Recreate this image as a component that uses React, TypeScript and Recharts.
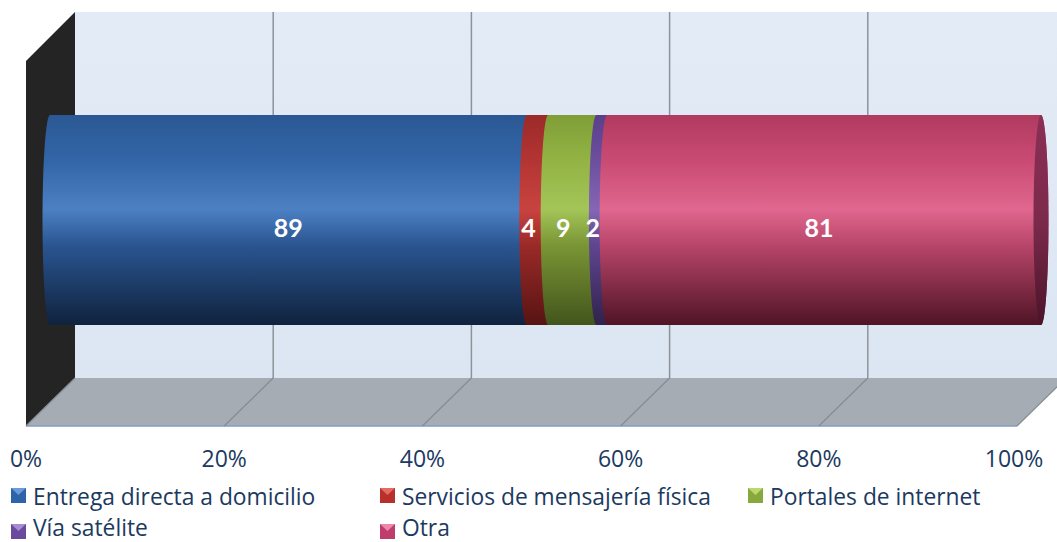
import React from 'react';
import { BarChart, Bar, XAxis, YAxis, CartesianGrid, LabelList, Legend } from 'recharts';

// ---------- data ----------
const CATEGORIES = ['Medio de entrega'];
const SERIES_KEYS = ['entrega', 'mensajeria', 'portales', 'satelite', 'otra'];
const SERIES_NAMES = [
  'Entrega directa a domicilio',
  'Servicios de mensajería física',
  'Portales de internet',
  'Vía satélite',
  'Otra',
];
const SERIES_VALUES = [89, 4, 9, 2, 81];
const X_TICKS = [0, 0.2, 0.4, 0.6, 0.8, 1];
const X_TICK_LABELS = ['0%', '20%', '40%', '60%', '80%', '100%'];

const data = CATEGORIES.map((c) => {
  const row: Record<string, string | number> = { categoria: c };
  SERIES_KEYS.forEach((k, i) => {
    row[k] = SERIES_VALUES[i];
  });
  return row;
});

// ---------- styles / layout ----------
const W = 1057;
const H = 542;
const FONT = "'Open Sans', Lato, 'DejaVu Sans', sans-serif";
const LABEL_FONT = "Lato, 'Open Sans', sans-serif";
const TEXT_COLOR = '#1b3a61';
const BACK_DX = 25;
const FRONT_DX = -24;
const BACK_TOP = 12;
const BACK_BOTTOM = 378;
const FRONT_BOTTOM = 426;
const RX = 7.5;

const GRADS = [
  ['#2a5894', '#3366a8', '#4c80c3', '#2a5591', '#10223d'],
  ['#9c2a29', '#b33533', '#c8433f', '#9a2a28', '#571413'],
  ['#7f9e37', '#93b444', '#a3c558', '#7a9535', '#42551c'],
  ['#5a3f8a', '#6c4f9e', '#8466b4', '#5f4590', '#30224b'],
  ['#b13a60', '#c94b74', '#e0678f', '#b8456a', '#4f1426'],
];
const MARKER = [
  ['#2f63a8', '#6a9ad8'],
  ['#b7302c', '#e46a62'],
  ['#86a83c', '#bcd86c'],
  ['#6a4a9c', '#a98bd2'],
  ['#bf3d6c', '#ec88ab'],
];
const LABEL_DX = [0, -9, -9, -9, -5];
const LEGEND_COLS = [11, 380, 748];

const Cylinder = (props: any) => {
  const { x, y, width, height, idx, last } = props;
  if (width == null || height == null) return null;
  const w = Math.max(0, width);
  const h = height;
  const d = `M${x},${y} L${x + w},${y} A${RX},${h / 2} 0 0 1 ${x + w},${y + h} L${x},${y + h} A${RX},${h / 2} 0 0 1 ${x},${y} Z`;
  return (
    <g>
      <path d={d} fill={`url(#cyl${idx})`} />
      {last ? <ellipse cx={x + w} cy={y + h / 2} rx={RX} ry={h / 2} fill="url(#cap)" /> : null}
    </g>
  );
};

const GridLine = (p: any) => {
  const x = p.x1;
  return (
    <g key={`g-${p.index}-${x}`}>
      {p.index > 0 ? (
        <line x1={x + BACK_DX} y1={BACK_TOP} x2={x + BACK_DX} y2={BACK_BOTTOM} stroke="#8d9399" strokeWidth={1.5} />
      ) : null}
      <line x1={x + BACK_DX} y1={BACK_BOTTOM} x2={x + FRONT_DX} y2={FRONT_BOTTOM} stroke="#868c92" strokeWidth={1.2} />
    </g>
  );
};

const Tick = (p: any) => {
  const { x, index } = p;
  return (
    <text x={x + FRONT_DX + (index === 5 ? -3 : 0)} y={467} textAnchor="middle" fontFamily={FONT} fontSize={23} fill={TEXT_COLOR}>
      {X_TICK_LABELS[index] ?? ''}
    </text>
  );
};

const renderLegend = (props: any) => {
  const payload: any[] = props.payload || [];
  return (
    <svg width={W} height={64} style={{ display: 'block', overflow: 'visible' }}>
      {payload.map((entry, i) => {
        const k = SERIES_KEYS.indexOf(entry.dataKey);
        const idx = k >= 0 ? k : i;
        const cx = LEGEND_COLS[idx % 3];
        const row = Math.floor(idx / 3);
        const my = 10 + row * 36;
        const by = 27 + row * 31;
        return (
          <g key={`leg-${idx}`}>
            <rect x={cx} y={my} width={15} height={15} fill={MARKER[idx][0]} />
            <polygon points={`${cx},${my} ${cx + 15},${my} ${cx + 7.5},${my + 7}`} fill={MARKER[idx][1]} />
            <text x={cx + 22} y={by} fontFamily={FONT} fontSize={22.8} fill={TEXT_COLOR}>
              {entry.value}
            </text>
          </g>
        );
      })}
    </svg>
  );
};

export default function App() {
  return (
    <div style={{ position: 'absolute', left: 0, top: 0, width: W, height: H, background: '#fff', overflow: 'hidden' }}>
      <svg width={W} height={H} style={{ position: 'absolute', left: 0, top: 0 }}>
        <defs>
          {GRADS.map((g, i) => (
            <linearGradient key={i} id={`cyl${i}`} x1="0" y1="0" x2="0" y2="1">
              <stop offset="0" stopColor={g[0]} />
              <stop offset="0.22" stopColor={g[1]} />
              <stop offset="0.45" stopColor={g[2]} />
              <stop offset="0.62" stopColor={g[3]} />
              <stop offset="1" stopColor={g[4]} />
            </linearGradient>
          ))}
          <linearGradient id="cap" x1="0" y1="0" x2="0" y2="1">
            <stop offset="0" stopColor="#8a2f55" />
            <stop offset="0.5" stopColor="#7c2a4c" />
            <stop offset="1" stopColor="#4a1428" />
          </linearGradient>
          <linearGradient id="wall" x1="0" y1="0" x2="0" y2="1">
            <stop offset="0" stopColor="#e3ebf6" />
            <stop offset="1" stopColor="#dce6f3" />
          </linearGradient>
        </defs>
        <rect x={50 + BACK_DX} y={BACK_TOP} width={W - 50 - BACK_DX} height={BACK_BOTTOM - BACK_TOP} fill="url(#wall)" />
        <polygon
          points={`${50 + FRONT_DX},${BACK_TOP + 49} ${50 + BACK_DX},${BACK_TOP} ${50 + BACK_DX},${BACK_BOTTOM} ${50 + FRONT_DX},${FRONT_BOTTOM}`}
          fill="#242424"
        />
        <polygon
          points={`${50 + BACK_DX},${BACK_BOTTOM} ${1041 + BACK_DX},${BACK_BOTTOM} ${1041 + FRONT_DX},${FRONT_BOTTOM} ${50 + FRONT_DX},${FRONT_BOTTOM}`}
          fill="#a6acb3"
        />
        <line x1={50 + FRONT_DX} y1={FRONT_BOTTOM} x2={1041 + FRONT_DX} y2={FRONT_BOTTOM} stroke="#7f9cc6" strokeWidth={1.5} />
      </svg>
      <div style={{ position: 'absolute', left: 0, top: 0 }}>
        <BarChart
          width={W}
          height={H}
          data={data}
          layout="vertical"
          stackOffset="expand"
          margin={{ top: 14, right: 16, bottom: 86, left: 50 }}
        >
          <CartesianGrid horizontal={false} vertical={GridLine} />
          <XAxis
            type="number"
            domain={[0, 1]}
            ticks={X_TICKS}
            interval={0}
            height={30}
            axisLine={false}
            tickLine={false}
            tick={Tick}
          />
          <YAxis type="category" dataKey="categoria" hide />
          {SERIES_KEYS.map((k, i) => (
            <Bar
              key={k}
              dataKey={k}
              name={SERIES_NAMES[i]}
              stackId="a"
              fill={MARKER[i][0]}
              barSize={210}
              isAnimationActive={false}
              shape={(p: any) => <Cylinder {...p} idx={i} last={i === SERIES_KEYS.length - 1} />}
            >
              <LabelList
                dataKey={k}
                content={(lp: any) => (
                  <text
                    x={lp.x + lp.width / 2 + LABEL_DX[i]}
                    y={lp.y + lp.height / 2 + 17}
                    textAnchor="middle"
                    fontFamily={LABEL_FONT}
                    fontWeight={700}
                    fontSize={25}
                    fill="#ffffff"
                  >
                    {lp.value}
                  </text>
                )}
              />
            </Bar>
          ))}
          <Legend
            layout="horizontal"
            verticalAlign="middle"
            align="center"
            wrapperStyle={{ left: 0, top: 478, width: W, height: 64 }}
            content={renderLegend}
          />
        </BarChart>
      </div>
    </div>
  );
}
